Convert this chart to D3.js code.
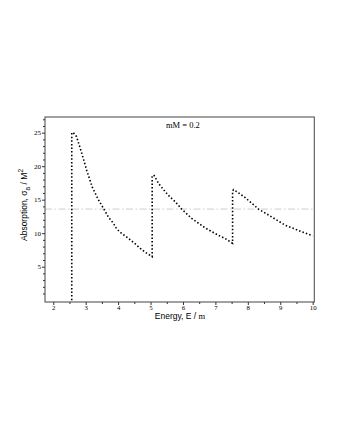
<!DOCTYPE html>
<html>
<head>
<meta charset="utf-8">
<script src="https://cdn.jsdelivr.net/npm/d3@7"></script>
<style>
  body { margin: 0; background: #fff; }
</style>
</head>
<body>
<div id="chart"></div>
<script>
// absorption curve (energy, value)
const energy = [2.57, 2.57, 2.62, 2.72, 2.88, 3.03, 3.2, 3.39, 3.56, 3.7, 3.85, 3.96, 4.1, 4.27, 4.48, 4.68, 4.85, 5.05,
                5.05, 5.1, 5.25, 5.45, 5.6, 5.76, 5.96, 6.27, 6.68, 7.09, 7.3, 7.53,
                7.53, 7.56, 7.75, 7.92, 8.33, 8.64, 9.15, 9.67, 10.0]
const absorption = [0, 25.0, 25.0, 24.4, 21.9, 19.4, 16.9, 15.0, 13.6, 12.4, 11.5, 10.6, 10.0, 9.4, 8.6, 7.75, 7.1, 6.5,
                    18.4, 18.7, 17.4, 16.2, 15.4, 14.7, 13.6, 12.2, 10.8, 9.7, 9.2, 8.5,
                    16.3, 16.5, 15.9, 15.3, 13.6, 12.7, 11.2, 10.2, 9.6]
const refLevel = 13.6
const xTicks = [2, 3, 4, 5, 6, 7, 8, 9, 10]
const yTicks = [5, 10, 15, 20, 25]

const svg = d3.select("#chart")
    .append("svg")
    .attr("width", 340)
    .attr("height", 440)

const x = d3.scaleLinear().domain([1.745, 10.05]).range([45, 314.3])
const y = d3.scaleLinear().domain([-0.27, 27.34]).range([302, 117])

// reference dash-dot line
svg.append("line")
    .attr("x1", x.range()[0]).attr("x2", x.range()[1])
    .attr("y1", y(refLevel)).attr("y2", y(refLevel))
    .attr("stroke", "#c8c8c8")
    .attr("stroke-width", 0.9)
    .attr("stroke-dasharray", "7 2.5 1.5 2.5")

const pts = energy.map((e, i) => [e, absorption[i]])
const line = d3.line().x(d => x(d[0])).y(d => y(d[1]))

svg.append("path")
    .attr("d", line(pts))
    .attr("fill", "none")
    .attr("stroke", "#000")
    .attr("stroke-width", 1.6)
    .attr("stroke-dasharray", "1.5 2.1")

// frame
svg.append("rect")
    .attr("x", 45).attr("y", 117)
    .attr("width", 314.3 - 45).attr("height", 302 - 117)
    .attr("fill", "none")
    .attr("stroke", "#555")
    .attr("stroke-width", 1.1)

// x axis
const xAxis = svg.append("g")
    .attr("transform", "translate(0,302)")
    .call(d3.axisBottom(x).tickValues(xTicks).tickSize(3).tickPadding(2).tickFormat(d3.format("d")))
xAxis.append("g").call(d3.axisBottom(x).tickValues(d3.range(2.5, 10, 1)).tickSize(2).tickFormat(""))
xAxis.selectAll(".domain").remove()
xAxis.selectAll("line").attr("stroke", "#333")
xAxis.selectAll("text")
    .attr("font-family", "Liberation Serif")
    .attr("font-size", 6.8)
    .attr("fill", "#000")
    .attr("dy", "0.45em")

// y axis
const yAxis = svg.append("g")
    .attr("transform", "translate(45,0)")
    .call(d3.axisLeft(y).tickValues(yTicks).tickSize(3).tickPadding(1).tickFormat(d3.format("d")))
yAxis.append("g").call(d3.axisLeft(y).tickValues(d3.range(1, 28, 1).filter(v => v % 5 != 0)).tickSize(2).tickFormat(""))
yAxis.selectAll(".domain").remove()
yAxis.selectAll("line").attr("stroke", "#333")
yAxis.selectAll("text")
    .attr("font-family", "Liberation Serif")
    .attr("font-size", 7)
    .attr("fill", "#000")

// annotation
svg.append("text")
    .attr("x", 166).attr("y", 127.5)
    .attr("font-family", "Liberation Serif")
    .attr("font-size", 8.5)
    .text("mM = 0.2")

// axis titles
const xt = svg.append("text")
    .attr("x", 180).attr("y", 319)
    .attr("text-anchor", "middle")
    .attr("font-family", "Liberation Sans")
    .attr("font-size", 8.5)
xt.append("tspan").text("Energy,  E / ")
xt.append("tspan").attr("font-family", "Liberation Serif").text("m")

const yt = svg.append("text")
    .attr("transform", "translate(27,205) rotate(-90)")
    .attr("text-anchor", "middle")
    .attr("font-family", "Liberation Sans")
    .attr("font-size", 8.5)
yt.append("tspan").text("Absorption, σ")
yt.append("tspan").attr("font-size", 6.5).attr("dy", 3).text("a")
yt.append("tspan").attr("dy", -3).text(" / M")
yt.append("tspan").attr("font-size", 6.5).attr("dy", -4).text("2")
</script>
</body>
</html>
